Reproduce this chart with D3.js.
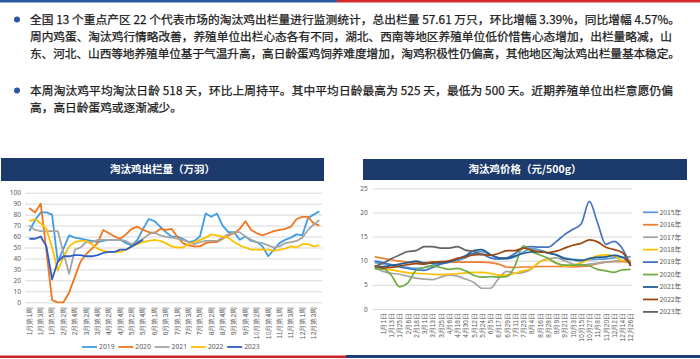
<!DOCTYPE html>
<html><head><meta charset="utf-8">
<script src="https://cdn.jsdelivr.net/npm/d3@7"></script>
<style>
body{margin:0;background:#fff;}
svg{display:block;font-family:"Noto Sans CJK SC","Noto Sans",sans-serif;}
</style>
</head><body>
<svg id="c" width="700" height="359"></svg>
<script>
// ---------- text ----------
const para1 = [
  "全国 13 个重点产区 22 个代表市场的淘汰鸡出栏量进行监测统计，总出栏量 57.61 万只，环比增幅 3.39%，同比增幅 4.57%。",
  "周内鸡蛋、淘汰鸡行情略改善，养殖单位出栏心态各有不同，湖北、西南等地区养殖单位低价惜售心态增加，出栏量略减，山",
  "东、河北、山西等地养殖单位基于气温升高，高日龄蛋鸡饲养难度增加，淘鸡积极性仍偏高，其他地区淘汰鸡出栏量基本稳定。"
];
const para2 = [
  "本周淘汰鸡平均淘汰日龄 518 天，环比上周持平。其中平均日龄最高为 525 天，最低为 500 天。近期养殖单位出栏意愿仍偏",
  "高，高日龄蛋鸡或逐渐减少。"
];

// ---------- left chart data ----------
const titleLeft = "淘汰鸡出栏量（万羽）";
const weekLabels = [
  "1月第1周","1月第2周","1月第3周","1月第4周","1月第5周",
  "2月第1周","2月第2周","2月第3周","2月第4周",
  "3月第1周","3月第2周","3月第3周","3月第4周",
  "4月第1周","4月第2周","4月第3周","4月第4周",
  "5月第1周","5月第2周","5月第3周","5月第4周","5月第5周",
  "6月第1周","6月第2周","6月第3周","6月第4周",
  "7月第1周","7月第2周","7月第3周","7月第4周","7月第5周",
  "8月第1周","8月第2周","8月第3周","8月第4周",
  "9月第1周","9月第2周","9月第3周","9月第4周",
  "10月第1周","10月第2周","10月第3周","10月第4周","10月第5周",
  "11月第1周","11月第2周","11月第3周","11月第4周",
  "12月第1周","12月第2周","12月第3周","12月第4周"
];
const outTicks = [0,10,20,30,40,50,60,70,80,90,100];
const outNames = ["2019","2020","2021","2022","2023"];
const out2019 = [65,75,82,82,80,37,49,61,59,58,57,56,55,56,57,57,57,54,52,57,67,76,74,69,64,60,60,58,55,56,60,81,78,81,70,64,64,57,60,56,55,51,42,48,54,57,59,62,61,77,80,83];
const out2020 = [86,82,90,47,2,0,0,9,23,37,44,49,54,66,63,60,58,62,67,69,66,64,63,67,66,67,60,54,52,51,51,54,55,55,58,61,63,67,74,66,63,61,63,65,66,67,69,76,78,78,72,70];
const out2021 = [70,66,65,65,65,65,45,26,48,50,55,55,57,57,57,57,57,56,53,55,58,62,64,61,60,59,58,57,55,53,55,56,56,56,59,62,64,64,60,57,55,54,52,50,51,54,55,56,59,66,71,75];
const out2022 = [74,76,72,67,50,29,41,51,55,56,56,53,49,47,46,46,46,48,51,53,55,56,57,56,54,51,50,50,53,55,57,59,62,61,60,59,55,52,50,48,48,48,48,47,48,49,51,50,53,53,51,52];
const out2023 = [58,58,60,51,21,37,42,42,43,43,42,42,43,45,46,46,48,48,51,54,57];
const outColors = ["#3d9de4","#f3761f","#a5a5a5","#ffc000","#2c5fc6"];

// ---------- right chart data ----------
const titleRight = "淘汰鸡价格（元/500g）";
const priceDays = [-12,0,12,24,36,48,60,72,84,96,108,120,132,144,156,168,180,192,204,216,228,240,252,264,276,288,300,312,324,336,348,360];
const dateLabels = ["1月1日","1月13日","1月25日","2月6日","2月18日","3月1日","3月13日","3月25日","4月6日","4月18日","4月30日","5月12日","5月24日","6月5日","6月17日","6月29日","7月11日","7月23日","8月4日","8月16日","8月28日","9月9日","9月21日","10月3日","10月15日","10月27日","11月8日","11月20日","12月2日","12月14日","12月26日"];
const priceTicks = [0,5,10,15,20,25];
const priceNames = ["2015年","2016年","2017年","2018年","2019年","2020年","2021年","2022年","2023年"];
const p2015 = [9.6,9.4,9.2,8.9,8.6,8.4,8.6,9.1,9.5,9.7,10.0,10.6,11.6,11.9,11.2,10.6,10.4,10.8,11.8,12.5,12.2,11.6,11.2,10.6,10.3,10.2,10.2,10.3,10.4,10.6,10.7,10.8];
const p2016 = [10.8,10.5,10.2,9.9,9.7,9.6,9.6,9.7,9.7,9.7,9.7,9.7,9.7,9.7,9.6,9.3,8.7,8.6,8.7,8.7,8.8,8.8,8.8,8.8,8.7,8.8,9.0,9.4,9.7,9.8,9.8,9.7];
const p2017 = [8.6,7.8,7.4,7.2,6.8,6.4,6.2,6.1,6.6,7.0,6.8,6.2,5.5,4.3,4.3,6.3,7.8,7.4,7.6,8.3,9.8,10.4,10.6,10.0,9.3,9.1,9.3,9.5,9.7,9.9,10.0,10.0];
const p2018 = [8.6,8.3,8.1,7.8,7.5,7.4,7.3,7.2,7.1,7.2,7.3,7.5,7.6,7.6,7.4,7.0,7.0,7.4,7.9,8.4,9.8,10.2,9.5,8.9,9.0,9.6,10.3,11.0,11.2,11.0,10.0,10.1];
const p2019 = [9.9,9.6,9.1,8.7,8.4,8.1,8.0,8.6,9.3,9.7,10.4,11.0,11.4,11.3,10.6,10.3,10.6,11.5,12.6,12.9,12.8,12.8,14.0,15.4,16.5,17.6,22.3,17.8,13.4,14.0,12.5,8.9];
const p2020 = [8.3,8.3,7.0,4.6,5.4,8.0,8.6,8.9,8.6,8.2,8.4,7.9,7.0,6.6,6.7,6.6,6.7,9.0,13.1,11.9,11.2,10.5,9.5,9.1,9.1,9.2,8.9,8.2,7.9,7.6,8.1,8.2];
const p2021 = [8.7,8.8,9.0,9.3,9.6,9.9,9.5,9.5,9.6,9.8,10.3,11.0,12.1,12.3,11.3,10.6,10.5,11.0,11.5,11.8,11.9,11.6,11.2,10.4,10.2,10.0,10.5,10.7,10.8,11.1,10.7,9.4];
const p2022 = [9.0,8.5,8.6,8.9,9.2,9.4,9.3,9.7,9.8,10.0,10.5,10.8,11.2,11.3,11.1,11.5,12.1,12.1,12.6,12.2,11.8,11.7,12.0,12.6,13.2,13.6,14.3,13.9,12.8,12.3,11.7,8.9];
const p2023 = [8.8,9.5,10.4,11.2,11.9,12.1,12.9,12.9,12.6,12.6,12.9,12.2,11.9,11.2];
const priceColors = ["#5b9bd5","#ed7d31","#a5a5a5","#ffc000","#4472c4","#70ad47","#255e91","#9e480e","#636363"];

// ---------- drawing ----------
const svg = d3.select("#c");
const navy = "#1c3a6c";
const gridC = "#d9d9d9";
const tickC = "#595959";

// top bars
svg.append("rect").attr("x",0).attr("y",0).attr("width",337).attr("height",2.5).attr("fill","#2b59a8");
svg.append("rect").attr("x",337).attr("y",0).attr("width",363).attr("height",2.5).attr("fill","#d62a2f");
// bottom bars
svg.append("rect").attr("x",0).attr("y",355.5).attr("width",346).attr("height",2.5).attr("fill","#cc2229");
svg.append("rect").attr("x",346).attr("y",355).attr("width",354).attr("height",3).attr("fill","#1f3d78");

// paragraphs
const textX = 30, fs = 11.7, lineH = 17;
const fitW = [650, 642, 650, 643];
function drawPara(lines, top, startIdx){
  svg.append("circle").attr("cx",17).attr("cy",top).attr("r",3).attr("fill","#2a56a6");
  lines.forEach((t,i)=>{
    const el = svg.append("text").attr("x",textX).attr("y",top+i*lineH).attr("dy","0.36em")
      .attr("font-size",fs).attr("fill","#1a1a1a").attr("stroke","#1a1a1a").attr("stroke-width",0.25).text(t);
    const w = fitW[startIdx+i];
    if (i < lines.length-1 || startIdx+i===2) el.attr("textLength",w).attr("lengthAdjust","spacing");
  });
}
drawPara(para1, 19.5, 0);
drawPara(para2, 90.5, 3);

// ===== left chart =====
const L = {left:26.5, right:322.2, top:192.7, bottom:302.3};
svg.append("rect").attr("x",1).attr("y",158).attr("width",323).attr("height",23).attr("fill",navy);
svg.append("text").attr("x",162.5).attr("y",169.5).attr("dy","0.36em").attr("text-anchor","middle")
  .attr("font-size",10.5).attr("font-weight","bold").attr("fill","#fff").text(titleLeft);

const xL = d3.scaleBand().domain(weekLabels).range([L.left, L.right]);
const yL = d3.scaleLinear().domain([0,100]).range([L.bottom, L.top]);

const gyL = svg.append("g").attr("transform",`translate(${L.left-1.5},0)`)
  .call(d3.axisLeft(yL).tickValues(outTicks).tickSize(-(L.right-L.left+1.5)).tickPadding(4));
gyL.select(".domain").remove();
gyL.selectAll("line").attr("stroke",gridC);
gyL.selectAll("text").attr("font-size",6.5).attr("fill",tickC).attr("font-family","'Noto Sans',sans-serif");

const gxL = svg.append("g").attr("transform",`translate(0,${L.bottom})`)
  .call(d3.axisBottom(xL).tickValues(weekLabels.filter((d,i)=>i%2===0)).tickSize(0));
gxL.select(".domain").remove();
gxL.selectAll("text").attr("transform","rotate(-90)").attr("text-anchor","end")
  .attr("x",-4.5).attr("y",0).attr("dy","0.35em").attr("font-size",6.8).attr("fill",tickC);

const lineL = d3.line().x((d,i)=>xL(weekLabels[i])+xL.bandwidth()/2).y(d=>yL(d));
[out2019,out2020,out2021,out2022,out2023].forEach((s,k)=>{
  svg.append("path").datum(s).attr("d",lineL).attr("fill","none")
    .attr("stroke",outColors[k]).attr("stroke-width",1.8).attr("stroke-linejoin","round");
});

// legend left
const legL = svg.append("g");
outNames.forEach((n,k)=>{
  const x0 = 82 + k*36.3;
  legL.append("line").attr("x1",x0).attr("x2",x0+15).attr("y1",347).attr("y2",347)
    .attr("stroke",outColors[k]).attr("stroke-width",1.8);
  legL.append("text").attr("x",x0+17).attr("y",347).attr("dy","0.35em").attr("font-size",6.8)
    .attr("fill",tickC).attr("font-family","'Noto Sans',sans-serif").text(n);
});

// ===== right chart =====
const R = {left:372.7, right:632.7, top:188.3, bottom:309};
svg.append("rect").attr("x",363).attr("y",159).attr("width",324).attr("height",21).attr("fill",navy);
svg.append("text").attr("x",525).attr("y",169.5).attr("dy","0.36em").attr("text-anchor","middle")
  .attr("font-size",10.5).attr("font-weight","bold").attr("fill","#fff").text(titleRight);

const xR = d3.scaleLinear().domain([-15,363]).range([R.left, R.right]);
const yR = d3.scaleLinear().domain([0,25]).range([R.bottom, R.top]);

const gyR = svg.append("g").attr("transform",`translate(${R.left},0)`)
  .call(d3.axisLeft(yR).tickValues(priceTicks).tickSize(-(R.right-R.left)).tickPadding(5));
gyR.select(".domain").remove();
gyR.selectAll("line").attr("stroke",gridC);
gyR.selectAll("text").attr("font-size",6.5).attr("fill",tickC).attr("font-family","'Noto Sans',sans-serif");

const labelDays = priceDays.slice(1);
const gxR = svg.append("g").attr("transform",`translate(0,${R.bottom})`)
  .call(d3.axisBottom(xR).tickValues(labelDays).tickFormat((d,i)=>dateLabels[i]).tickSize(0));
gxR.select(".domain").remove();
gxR.selectAll("text").attr("transform","rotate(-90)").attr("text-anchor","end")
  .attr("x",-4).attr("y",0).attr("dy","0.35em").attr("font-size",6.5).attr("fill",tickC);

const lineR = d3.line().x((d,i)=>xR(priceDays[i])).y(d=>yR(d)).curve(d3.curveMonotoneX);
[p2015,p2016,p2017,p2018,p2019,p2020,p2021,p2022,p2023].forEach((s,k)=>{
  svg.append("path").datum(s).attr("d",lineR).attr("fill","none")
    .attr("stroke",priceColors[k]).attr("stroke-width",1.7);
});

// legend right
const legR = svg.append("g");
priceNames.forEach((n,k)=>{
  const y0 = 212.3 + k*12.45;
  legR.append("line").attr("x1",643).attr("x2",658).attr("y1",y0).attr("y2",y0)
    .attr("stroke",priceColors[k]).attr("stroke-width",1.8);
  legR.append("text").attr("x",659.5).attr("y",y0).attr("dy","0.35em").attr("font-size",6.8)
    .attr("fill",tickC).text(n);
});
</script>
</body></html>
